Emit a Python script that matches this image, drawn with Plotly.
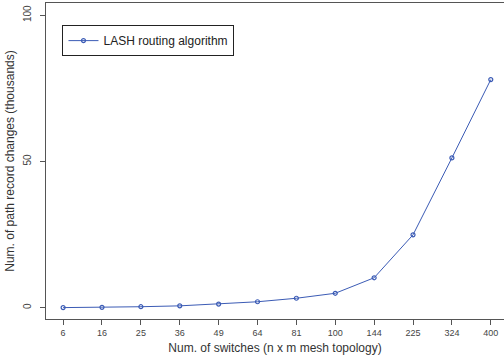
import plotly.graph_objects as go

switches = ["6", "16", "25", "36", "49", "64", "81", "100", "144", "225", "324", "400"]
changes = [0.0, 0.1, 0.3, 0.6, 1.2, 2.0, 3.2, 4.9, 10.2, 24.9, 51.2, 78.0]
series_name = "LASH routing algorithm"
y_ticks = [0, 50, 100]

color = "#3b5bb5"
axis_col = "#555555"
font = "Liberation Sans, Arial, sans-serif"

fig = go.Figure()
fig.add_trace(go.Scatter(
    x=list(range(len(switches))), y=changes, mode="lines+markers", name=series_name,
    line=dict(color=color, width=1),
    marker=dict(symbol="circle-open", size=4, color=color, line=dict(width=1.2, color=color)),
))

fig.update_layout(
    width=504, height=362,
    margin=dict(l=46, r=0, t=3, b=43),
    paper_bgcolor="white", plot_bgcolor="white",
    font=dict(family=font, color="#333333"),
    showlegend=True,
    legend=dict(x=0.036, y=0.93, xanchor="left", yanchor="top",
                bordercolor="#222222", borderwidth=1, bgcolor="white",
                font=dict(size=12, color="#222222", family=font),
                itemwidth=30, tracegroupgap=0),
    xaxis=dict(
        range=[-0.44, 11.34], tickmode="array",
        tickvals=list(range(len(switches))), ticktext=switches,
        showgrid=False, zeroline=False,
        showline=True, linecolor=axis_col, linewidth=1, mirror=True,
        ticks="outside", ticklen=5, tickcolor=axis_col,
        tickfont=dict(size=9, color="#444444"),
        title=dict(text="Num. of switches (n x m mesh topology)", font=dict(size=12, color="#333333"), standoff=6),
    ),
    yaxis=dict(
        range=[-3.9, 104.2], tickmode="array", tickvals=y_ticks,
        ticktext=[str(v) for v in y_ticks], tickangle=-90,
        showgrid=False, zeroline=False,
        showline=True, linecolor=axis_col, linewidth=1,
        ticks="outside", ticklen=5, tickcolor=axis_col,
        ticklabelstandoff=5,
        tickfont=dict(size=10, color="#444444"),
        title=dict(text="Num. of path record changes (thousands)", font=dict(size=12, color="#333333"), standoff=4),
    ),
)

fig.write_html("out.html")
